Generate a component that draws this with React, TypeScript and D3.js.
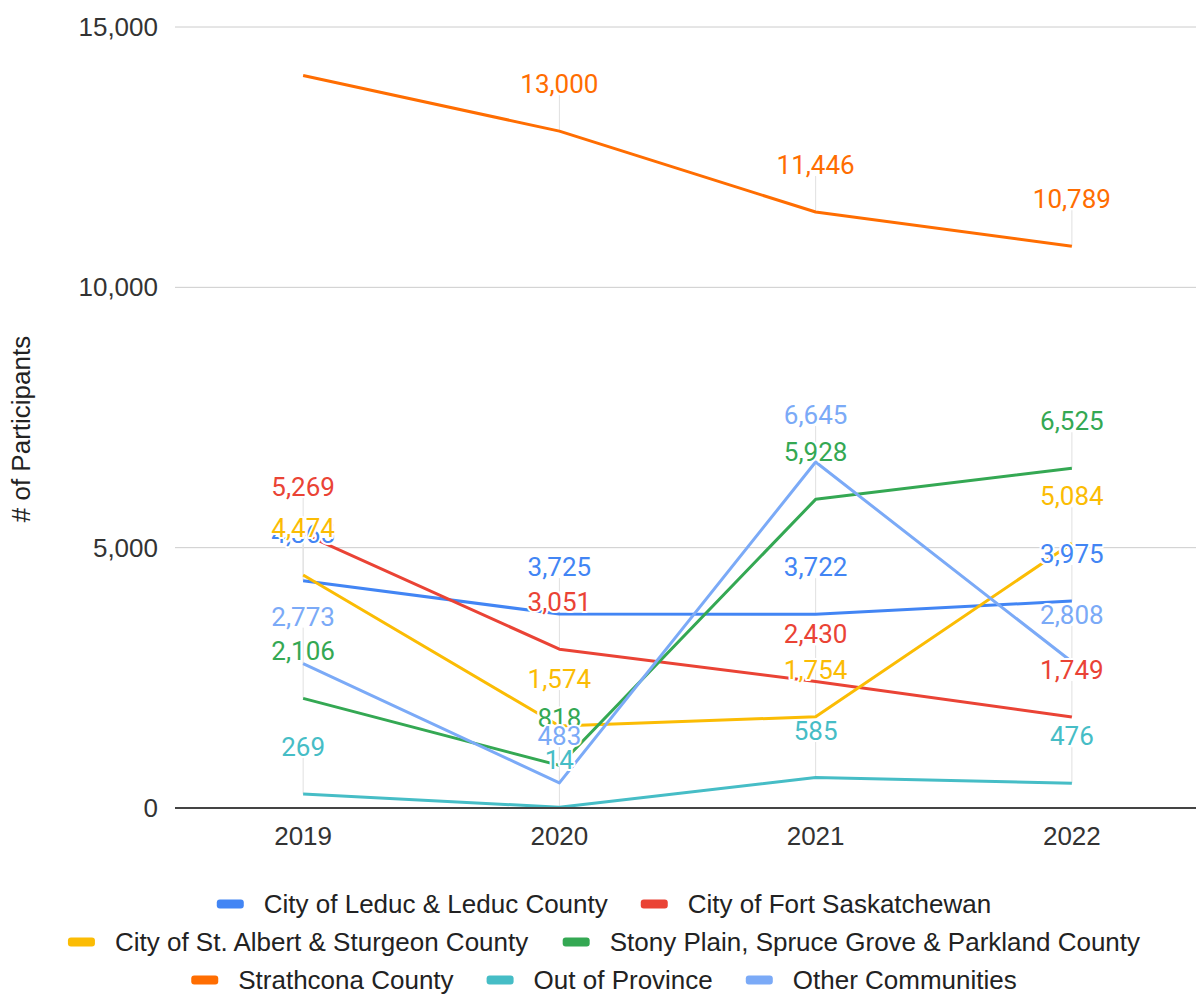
import React from "react";
import * as d3 from "d3";

const years = ["2019", "2020", "2021", "2022"];
const seriesNames = [
  "City of Leduc & Leduc County",
  "City of Fort Saskatchewan",
  "City of St. Albert & Sturgeon County",
  "Stony Plain, Spruce Grove & Parkland County",
  "Strathcona County",
  "Out of Province",
  "Other Communities",
];
const seriesColors = ["#4285F4", "#EA4335", "#FBBC04", "#34A853", "#FF6D01", "#46BDC6", "#7BAAF7"];
const leduc = [4365, 3725, 3722, 3975];
const fortSask = [5269, 3051, 2430, 1749];
const stAlbert = [4474, 1574, 1754, 5084];
const stonyPlain = [2106, 818, 5928, 6525];
const strathcona = [14070, 13000, 11446, 10789];
const outOfProvince = [269, 14, 585, 476];
const otherCommunities = [2773, 483, 6645, 2808];
const seriesValues = [leduc, fortSask, stAlbert, stonyPlain, strathcona, outOfProvince, otherCommunities];
const hiddenLabels = ["Strathcona County|2019"];
const yTicks = [0, 5000, 10000, 15000];
const legendRows = [[0, 1], [2, 3], [4, 5, 6]];
const yTitle = "# of Participants";

const W = 1196;
const H = 996;
const AXIS_FONT = "'Liberation Sans', Arial, sans-serif";
const LABEL_FONT = "Roboto, 'Liberation Sans', Arial, sans-serif";

function measure(text: string, font: string): number {
  const c = document.createElement("canvas");
  const ctx = c.getContext("2d")!;
  ctx.font = font;
  return ctx.measureText(text).width;
}

export default function App() {
  const x = d3.scaleBand<string>().domain(years).range([175, 1200]).padding(0);
  const cx = (yr: string) => (x(yr) as number) + x.bandwidth() / 2;
  const y = d3.scaleLinear().domain([0, 15000]).range([808, 27]);
  const fmt = d3.format(",");
  const line = d3
    .line<number>()
    .x((_, i) => cx(years[i]))
    .y((v) => y(v));

  const legendFont = `26px ${AXIS_FONT}`;
  const swW = 27, swH = 9, swGap = 20, itemGap = 33;
  const rowYs = [904, 942, 980];
  const legendCenter = 604;

  return (
    <svg width={W} height={H} style={{ position: "absolute", left: 0, top: 0, background: "#fff" }}>
      {/* gridlines */}
      {yTicks.map((t) => (
        <g key={t}>
          {t !== 0 && <line x1={175} x2={W} y1={y(t)} y2={y(t)} stroke="#cccccc" strokeWidth={1} />}
          <text x={158} y={y(t)} dy="0.35em" textAnchor="end" fontFamily={AXIS_FONT} fontSize={26} fill="#333">
            {fmt(t)}
          </text>
        </g>
      ))}
      {/* stems */}
      {seriesValues.map((vals, si) =>
        vals.map((v, i) =>
          hiddenLabels.includes(`${seriesNames[si]}|${years[i]}`) ? null : (
            <line key={`st${si}-${i}`} x1={cx(years[i])} x2={cx(years[i])} y1={y(v)} y2={y(v) - 36} stroke="#e0e0e0" strokeWidth={1} />
          )
        )
      )}
      {/* lines */}
      {seriesValues.map((vals, si) => (
        <path key={`l${si}`} d={line(vals) as string} fill="none" stroke={seriesColors[si]} strokeWidth={3} strokeLinejoin="round" />
      ))}
      {/* baseline */}
      <line x1={175} x2={W} y1={y(0)} y2={y(0)} stroke="#444" strokeWidth={2} />
      {/* x labels */}
      {years.map((yr) => (
        <text key={yr} x={cx(yr)} y={836} dy="0.35em" textAnchor="middle" fontFamily={AXIS_FONT} fontSize={26} fill="#333">
          {yr}
        </text>
      ))}
      {/* annotations */}
      {seriesValues.map((vals, si) =>
        vals.map((v, i) =>
          hiddenLabels.includes(`${seriesNames[si]}|${years[i]}`) ? null : (
            <text
              key={`a${si}-${i}`}
              x={cx(years[i])}
              y={y(v) - 38}
              textAnchor="middle"
              fontFamily={LABEL_FONT}
              fontSize={26}
              fill={seriesColors[si]}
              stroke="#fff"
              strokeWidth={4}
              strokeLinejoin="round"
              style={{ paintOrder: "stroke" }}
            >
              {fmt(v)}
            </text>
          )
        )
      )}
      {/* y title */}
      <text transform={`translate(30,429) rotate(-90)`} textAnchor="middle" fontFamily={AXIS_FONT} fontSize={26} fill="#222">
        {yTitle}
      </text>
      {/* legend */}
      {legendRows.map((row, ri) => {
        const widths = row.map((si) => swW + swGap + measure(seriesNames[si], legendFont));
        const total = widths.reduce((a, b) => a + b, 0) + itemGap * (row.length - 1);
        let xpos = legendCenter - total / 2;
        return (
          <g key={`lr${ri}`}>
            {row.map((si, k) => {
              const x0 = xpos;
              xpos += widths[k] + itemGap;
              return (
                <g key={si}>
                  <rect x={x0} y={rowYs[ri] - swH / 2} width={swW} height={swH} rx={3} fill={seriesColors[si]} />
                  <text x={x0 + swW + swGap} y={rowYs[ri]} dy="0.35em" fontFamily={AXIS_FONT} fontSize={26} fill="#222">
                    {seriesNames[si]}
                  </text>
                </g>
              );
            })}
          </g>
        );
      })}
    </svg>
  );
}
